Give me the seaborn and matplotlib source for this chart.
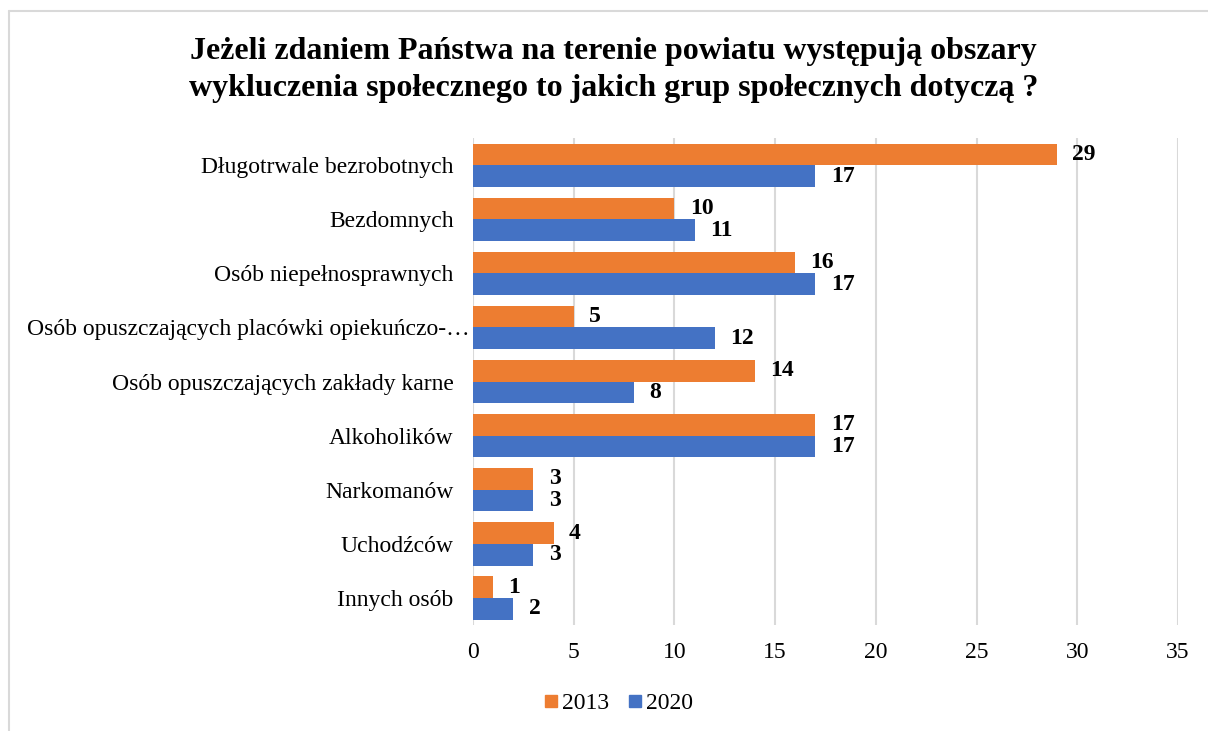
import pandas as pd
import matplotlib.pyplot as plt
import seaborn as sns
from matplotlib.lines import Line2D
from matplotlib.transforms import ScaledTranslation

kategorie = ["Długotrwale bezrobotnych", "Bezdomnych", "Osób niepełnosprawnych",
             "Osób opuszczających placówki opiekuńczo-…",
             "Osób opuszczających zakłady karne", "Alkoholików", "Narkomanów",
             "Uchodźców", "Innych osób"]
lata = ["2013", "2020"]
wartosci_2013 = [29, 10, 16, 5, 14, 17, 3, 4, 1]
wartosci_2020 = [17, 11, 17, 12, 8, 17, 3, 3, 2]
kolory = {"2013": "#ED7D31", "2020": "#4472C4"}


def plotGraph():
    sns.set_style("white")
    plt.rcParams['font.family'] = ['Liberation Serif', 'DejaVu Serif']
    plt.rcParams['text.color'] = 'black'
    plt.rcParams['xtick.color'] = 'black'
    plt.rcParams['ytick.color'] = 'black'

    df = pd.DataFrame({'Grupa': kategorie, '2013': wartosci_2013, '2020': wartosci_2020})
    df = df.melt('Grupa', var_name='Rok', value_name='Liczba')

    fig = plt.figure(figsize=(12.08, 7.31), dpi=100)
    ax = fig.add_axes([0.3916, 0.145, 0.5836, 0.666])

    sns.barplot(data=df, y='Grupa', x='Liczba', hue='Rok', hue_order=lata,
                palette=kolory, orient='h', width=0.8, saturation=1,
                linewidth=0, ax=ax)

    ax.set_xlim(0, 35)
    ax.set_xticks(range(0, 36, 5))
    ax.grid(axis='x', color='#D9D9D9', linewidth=1.5)
    ax.set_axisbelow(True)
    for s in ax.spines.values():
        s.set_visible(False)
    ax.tick_params(axis='both', length=0, labelsize=17, labelcolor='black')
    ax.tick_params(axis='y', pad=14)
    ax.tick_params(axis='x', pad=12)
    ax.set_xlabel('')
    ax.set_ylabel('')

    # obcięta etykieta w oryginale wychodzi trochę na prawo
    for lab in ax.get_yticklabels():
        if lab.get_text().endswith('…'):
            lab.set_transform(lab.get_transform() +
                              ScaledTranslation(0.16, 0, fig.dpi_scale_trans))

    for cont in ax.containers:
        ax.bar_label(cont, padding=11, fontsize=17, fontweight='bold', color='black')

    ax.legend_.remove()
    uchwyty = [Line2D([], [], marker='s', linestyle='', markersize=8.5,
                      color=kolory[r]) for r in lata]
    fig.legend(uchwyty, lata, loc='center', bbox_to_anchor=(0.511, 0.038), ncol=2,
               frameon=False, fontsize=17, handletextpad=0.05, columnspacing=0.7,
               handlelength=0.8)

    fig.text(0.508, 0.904,
             "Jeżeli zdaniem Państwa na terenie powiatu występują obszary\n"
             "wykluczenia społecznego to jakich grup społecznych dotyczą ?",
             ha='center', va='center', fontsize=23, fontweight='bold',
             linespacing=1.38, color='black')

    # ramka wykresu (widoczna lewa i górna krawędź)
    fig.add_artist(Line2D([0.0075, 0.0075], [0, 0.985], color='#D9D9D9', lw=1.5))
    fig.add_artist(Line2D([0.0075, 1], [0.985, 0.985], color='#D9D9D9', lw=1.5))

    fig.savefig('out.png', dpi=100)


plotGraph()
